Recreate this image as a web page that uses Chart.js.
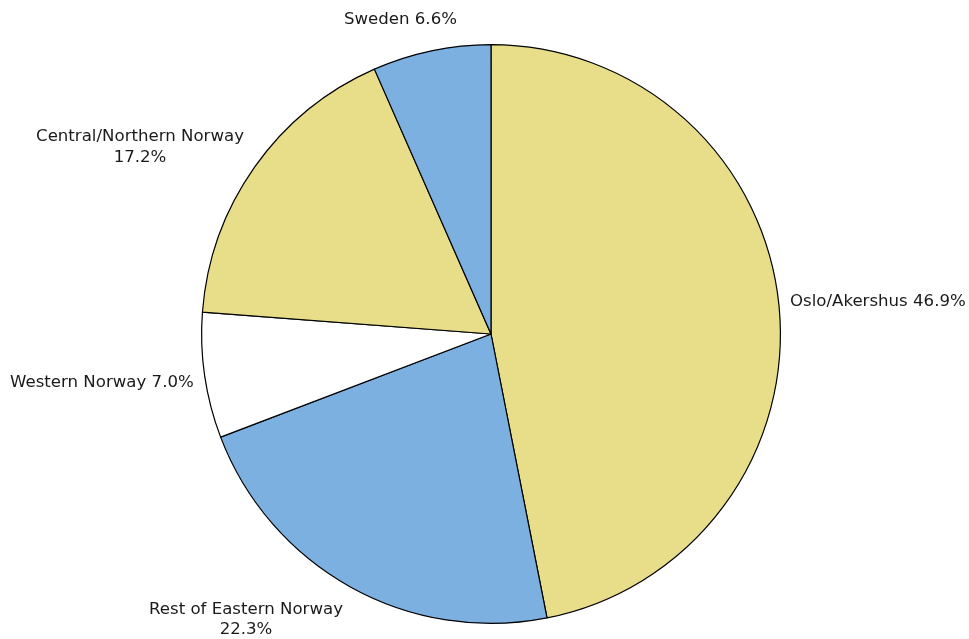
<!DOCTYPE html>
<html>
<head>
<meta charset="utf-8">
<script src="https://cdn.jsdelivr.net/npm/chart.js@4.4.1/dist/chart.umd.min.js"></script>
<style>
html,body{margin:0;padding:0;background:#fff;}
#wrap{width:969px;height:639px;position:relative;}
</style>
</head>
<body>
<div id="wrap"><canvas id="c" width="969" height="639"></canvas></div>
<script>
const categories = ["Oslo/Akershus", "Rest of Eastern Norway", "Western Norway", "Central/Northern Norway", "Sweden"];
const shares = [46.9, 22.3, 7.0, 17.2, 6.6];
const sliceColors = ["#E8DE8A", "#7CB0E1", "#FFFFFF", "#E8DE8A", "#7CB0E1"];
// label text lines per category
const labelLines = [
  ["Oslo/Akershus 46.9%"],
  ["Rest of Eastern Norway", "22.3%"],
  ["Western Norway 7.0%"],
  ["Central/Northern Norway", "17.2%"],
  ["Sweden 6.6%"]
];
// small label nudges [dx, dy]
const labelNudge = [[-1,-2],[-2,4],[1,4],[-1,-1],[28,-9]];

const FONT = '16.6px "DejaVu Sans", Verdana, sans-serif';
const LINE_H = 20.5;

const labelPlugin = {
  id: 'outLabels',
  afterDraw(chart) {
    const ctx = chart.ctx;
    const meta = chart.getDatasetMeta(0);
    ctx.save();
    ctx.font = FONT;
    ctx.fillStyle = '#1a1a1a';
    ctx.textBaseline = 'middle';
    meta.data.forEach((arc, i) => {
      const p = arc.getProps(['x','y','startAngle','endAngle','outerRadius'], true);
      const mid = (p.startAngle + p.endAngle) / 2;
      const R = p.outerRadius + 12;
      const ax = p.x + Math.cos(mid) * R;
      const ay = p.y + Math.sin(mid) * R;
      const s = Math.cos(mid);
      const c = -Math.sin(mid);
      const lines = labelLines[i];
      const w = Math.max(...lines.map(l => ctx.measureText(l).width));
      const h = lines.length * LINE_H;
      let x0 = s >= 0 ? ax : ax - w;
      let y0 = ay - h * (1 + c) / 2;
      x0 += labelNudge[i][0];
      y0 += labelNudge[i][1];
      ctx.textAlign = 'center';
      lines.forEach((l, k) => {
        ctx.fillText(l, x0 + w / 2, y0 + LINE_H * (k + 0.5));
      });
    });
    ctx.restore();
  }
};

new Chart(document.getElementById('c'), {
  type: 'pie',
  data: {
    labels: categories,
    datasets: [{
      data: shares,
      backgroundColor: sliceColors,
      borderColor: '#000000',
      borderWidth: 1.2,
      hoverOffset: 0,
      offset: 0
    }]
  },
  options: {
    responsive: false,
    animation: false,
    layout: { padding: { left: 200, right: 187, top: 44, bottom: 15 } },
    plugins: { legend: { display: false }, tooltip: { enabled: false } }
  },
  plugins: [labelPlugin]
});
</script>
</body>
</html>
